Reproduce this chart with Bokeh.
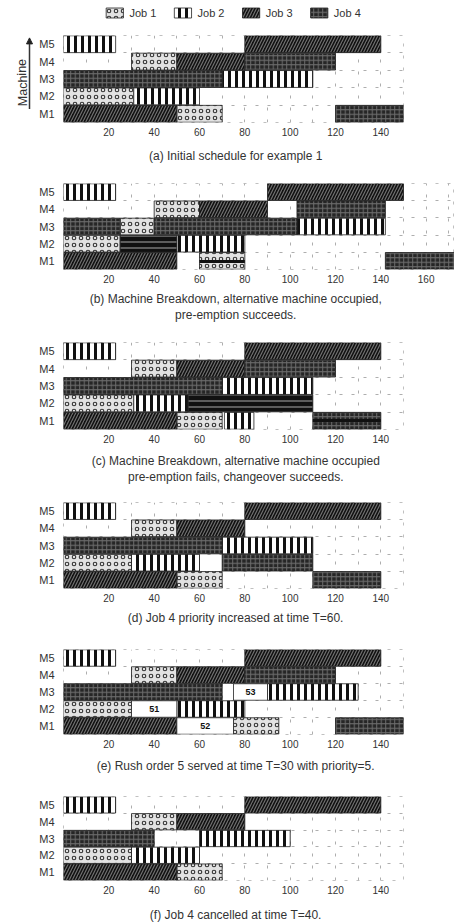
from bokeh.plotting import figure
from bokeh.layouts import column, row
from bokeh.models import ColumnDataSource, Arrow, NormalHead, FixedTicker, Range1d
from bokeh.embed import file_html
from bokeh.resources import INLINE
from bokeh.core.properties import value

FONT = "Liberation Sans"
TXT = "#333333"

# ---------------- data ----------------
machines = [1, 2, 3, 4, 5]
machine_names = ["M1", "M2", "M3", "M4", "M5"]
job_keys = ["J1", "J2", "J3", "J4"]
job_names = ["Job 1", "Job 2", "Job 3", "Job 4"]
ticks_std = [20, 40, 60, 80, 100, 120, 140]
ticks_wide = [20, 40, 60, 80, 100, 120, 140, 160]

# (a) initial schedule
a_machine = [5, 5, 4, 4, 4, 3, 3, 2, 2, 1, 1, 1]
a_start = [0, 80, 30, 50, 80, 0, 70, 0, 31, 0, 50, 120]
a_end = [23, 140, 50, 80, 120, 70, 110, 31, 60, 50, 70, 150]
a_kind = ["J2", "J3", "J1", "J3", "J4", "J4", "J2", "J1", "J2", "J3", "J1", "J4"]

# (b) breakdown, pre-emption succeeds
b_machine = [5, 5, 4, 4, 4, 3, 3, 3, 3, 2, 2, 2, 1, 1, 1]
b_start = [0, 90, 40, 60, 103, 0, 25, 40, 103, 0, 25, 50, 0, 60, 142]
b_end = [23, 150, 60, 90, 142, 25, 40, 103, 142, 25, 50, 80, 50, 80, 173]
b_kind = ["J2", "J3", "J1", "J3", "J4", "J4", "J1", "J4", "J2", "J1", "H", "J2", "J3", "J1h", "J4"]

# (c) breakdown, pre-emption fails, changeover succeeds
c_machine = [5, 5, 4, 4, 4, 3, 3, 2, 2, 2, 1, 1, 1, 1]
c_start = [0, 80, 30, 50, 80, 0, 70, 0, 31, 55, 0, 50, 71, 110]
c_end = [23, 140, 50, 80, 120, 70, 110, 31, 55, 110, 50, 70, 84, 140]
c_kind = ["J2", "J3", "J1", "J3", "J4", "J4", "J2", "J1", "J2", "H", "J3", "J1", "J2", "J4h"]

# (d) job 4 priority increased at T=60
d_machine = [5, 5, 4, 4, 3, 3, 2, 2, 2, 1, 1, 1]
d_start = [0, 80, 30, 50, 0, 70, 0, 30, 70, 0, 50, 110]
d_end = [23, 140, 50, 80, 70, 110, 30, 60, 110, 50, 70, 140]
d_kind = ["J2", "J3", "J1", "J3", "J4", "J2", "J1", "J2", "J4", "J3", "J1", "J4"]

# (e) rush order 5 at T=30
e_machine = [5, 5, 4, 4, 4, 3, 3, 3, 2, 2, 2, 1, 1, 1, 1]
e_start = [0, 80, 30, 50, 80, 0, 75, 90, 0, 30, 50, 0, 50, 75, 120]
e_end = [23, 140, 50, 80, 120, 70, 90, 130, 30, 50, 80, 50, 75, 95, 150]
e_kind = ["J2", "J3", "J1", "J3", "J4", "J4", "R", "J2", "J1", "R", "J2", "J3", "R", "J1", "J4"]
e_text = ["", "", "", "", "", "", "53", "", "", "51", "", "", "52", "", ""]

# (f) job 4 cancelled at T=40
f_machine = [5, 5, 4, 4, 3, 3, 2, 2, 1, 1]
f_start = [0, 80, 30, 50, 0, 60, 0, 30, 0, 50]
f_end = [23, 140, 50, 80, 40, 100, 30, 60, 50, 70]
f_kind = ["J2", "J3", "J1", "J3", "J4", "J2", "J1", "J2", "J3", "J1"]

captions = [
    ["(a) Initial schedule for example 1"],
    ["(b) Machine Breakdown, alternative machine occupied,", "pre-emption succeeds."],
    ["(c) Machine Breakdown, alternative machine occupied", "pre-emption fails, changeover succeeds."],
    ["(d) Job 4 priority increased at time T=60."],
    ["(e) Rush order 5 served at time T=30 with priority=5."],
    ["(f) Job 4 cancelled at time T=40."],
]
axis_title = "Machine"

# ---------------- styles ----------------
STYLES = {
    "J1": dict(fill_color="#e2e2e2", hatch_pattern="o", hatch_color="#333333", hatch_scale=7, hatch_weight=1.1),
    "J2": dict(fill_color="white", hatch_pattern="|", hatch_color="#111111", hatch_scale=7, hatch_weight=3),
    "J3": dict(fill_color="#101010", hatch_pattern="/", hatch_color="#707070", hatch_scale=6, hatch_weight=1.2),
    "J4": dict(fill_color="#262626", hatch_pattern="+", hatch_color="#6c6c6c", hatch_scale=4.5, hatch_weight=1),
    "H": dict(fill_color="#111111", hatch_pattern="-", hatch_color="#aaaaaa", hatch_scale=6, hatch_weight=1),
    "R": dict(fill_color="white"),
}
ORDER = ["J1", "J2", "J3", "J4", "H", "R"]

W = 454
MACH_W = 36          # width of the strip holding the "Machine" title (panel a)
LEFT = 63            # page x of the frame's left edge (time 0)
PX_PER_UNIT = 340 / 150.0
TOP = 5
BOTTOM = 17
CAP_X = 230
CAP_SIZE = "12px"


def make_panel(machine, start, end, kind, ticks, fh, x_max=150, wide=False,
               texts=None, left_border=LEFT):
    fw = int(round(x_max * PX_PER_UNIT))
    total_w = W - (LEFT - left_border)
    p = figure(frame_width=fw, frame_height=fh,
               x_range=Range1d(0, x_max), y_range=Range1d(0.5, 5.5),
               output_backend="svg", toolbar_location=None,
               min_border_left=left_border,
               min_border_right=0 if wide else total_w - left_border - fw,
               min_border_top=TOP, min_border_bottom=BOTTOM)
    p.outline_line_color = "#b0b0b0"
    p.outline_line_dash = "3 9"
    p.outline_line_alpha = 0.8

    p.xgrid.ticker = FixedTicker(ticks=list(range(10, int(x_max) + 1, 10)))
    p.ygrid.ticker = FixedTicker(ticks=[m + 0.5 for m in machines[:-1]])
    for g in (p.xgrid, p.ygrid):
        g.grid_line_color = "#9a9a9a"
        g.grid_line_dash = "3 9"
        g.grid_line_alpha = 0.8

    p.xaxis.ticker = FixedTicker(ticks=ticks)
    p.yaxis.ticker = FixedTicker(ticks=machines)
    p.yaxis.major_label_overrides = {m: n for m, n in zip(machines, machine_names)}
    for ax in (p.xaxis, p.yaxis):
        ax.axis_line_color = None
        ax.major_tick_line_color = None
        ax.minor_tick_line_color = None
        ax.major_tick_out = 0
        ax.major_tick_in = 0
        ax.major_label_text_font = FONT
        ax.major_label_text_color = TXT
    p.xaxis.major_label_text_font_size = "10px"
    p.xaxis.major_label_standoff = 5
    p.yaxis.major_label_text_font_size = "11px"
    p.yaxis.major_label_standoff = 9

    for st in ORDER:
        idx = [i for i, k in enumerate(kind) if k[:2] == st or k == st]
        if not idx:
            continue
        src = ColumnDataSource(dict(
            y=[machine[i] for i in idx],
            left=[start[i] for i in idx],
            right=[end[i] for i in idx]))
        p.hbar(y="y", left="left", right="right", height=0.97, source=src,
               line_color="#222222", line_width=0.8, **STYLES[st])
    oidx = [i for i, k in enumerate(kind) if k.endswith("h")]
    if oidx:
        osrc = ColumnDataSource(dict(
            y=[machine[i] for i in oidx],
            left=[start[i] for i in oidx],
            right=[end[i] for i in oidx]))
        p.hbar(y="y", left="left", right="right", height=0.97, source=osrc,
               fill_alpha=0, line_color=None, hatch_pattern="-", hatch_color="#111111",
               hatch_scale=11, hatch_weight=3)

    if texts is not None:
        tidx = [i for i, t in enumerate(texts) if t]
        tsrc = ColumnDataSource(dict(
            x=[(start[i] + end[i]) / 2 for i in tidx],
            y=[machine[i] for i in tidx],
            t=[texts[i] for i in tidx]))
        p.text(x="x", y="y", text="t", source=tsrc, text_align="center",
               text_baseline="middle", text_font=value(FONT), text_font_size="9px",
               text_font_style="bold", text_color="#111111")
    return p


def blank(width, height, xr, yr):
    f = figure(width=width, height=height, x_range=xr, y_range=yr,
               x_axis_type=None, y_axis_type=None, output_backend="svg",
               toolbar_location=None, min_border=0, outline_line_color=None)
    f.grid.visible = False
    return f


def caption_fig(lines, offsets, height):
    f = blank(W, height, Range1d(0, W), Range1d(height, 0))
    src = ColumnDataSource(dict(x=[CAP_X] * len(lines), y=offsets, t=lines))
    f.text(x="x", y="y", text="t", source=src, text_align="center",
           text_baseline="middle", text_font=value(FONT), text_font_size=CAP_SIZE,
           text_color=TXT)
    return f


# legend strip
LEG_H = 30
pl = blank(W, LEG_H, Range1d(0, W), Range1d(LEG_H, 0))
for i, (key, name) in enumerate(zip(job_keys, job_names)):
    x0 = 57 + 91 * i
    pl.quad(left=[x0], right=[x0 + 23], top=[7.5], bottom=[17.5],
            line_color="#222222", line_width=0.8, **STYLES[key])
    pl.text(x=[x0 + 31], y=[12.5], text=[name], text_align="left", text_baseline="middle",
            text_font=value(FONT), text_font_size="11px", text_color=TXT)

# panel (a) with "Machine" strip
FH_A = 87
pa = make_panel(a_machine, a_start, a_end, a_kind, ticks_std, FH_A,
                left_border=LEFT - MACH_W)
h_a = TOP + FH_A + BOTTOM
pm = blank(MACH_W, h_a, Range1d(0, MACH_W), Range1d(-BOTTOM, FH_A + TOP))
pm.text(x=[22], y=[33], text=[axis_title], angle=1.5708, text_align="center",
        text_baseline="middle", text_font=value(FONT), text_font_size="12.5px",
        text_color=TXT)
pm.add_layout(Arrow(x_start=29, y_start=0, x_end=29, y_end=FH_A + 2,
                    line_color="#333333", line_width=1.5,
                    end=NormalHead(size=6, fill_color="#222222", line_color="#222222")))

pb = make_panel(b_machine, b_start, b_end, b_kind, ticks_wide, 86,
                x_max=(W - LEFT) / PX_PER_UNIT, wide=True)
pc = make_panel(c_machine, c_start, c_end, c_kind, ticks_std, 87)
pd_ = make_panel(d_machine, d_start, d_end, d_kind, ticks_std, 86)
pe = make_panel(e_machine, e_start, e_end, e_kind, ticks_std, 85, texts=e_text)
pf = make_panel(f_machine, f_start, f_end, f_kind, ticks_std, 84)

ca = caption_fig(captions[0], [16], 39)
cb = caption_fig(captions[1], [12, 28], 51)
cc = caption_fig(captions[2], [14, 30], 51)
cd = caption_fig(captions[3], [12], 39)
ce = caption_fig(captions[4], [14], 40)
cf = caption_fig(captions[5], [17], 25)

layout = column(pl, row(pm, pa, spacing=0), ca, pb, cb, pc, cc, pd_, cd, pe, ce, pf, cf,
                spacing=0)
open("out.html", "w").write(file_html(layout, INLINE))
